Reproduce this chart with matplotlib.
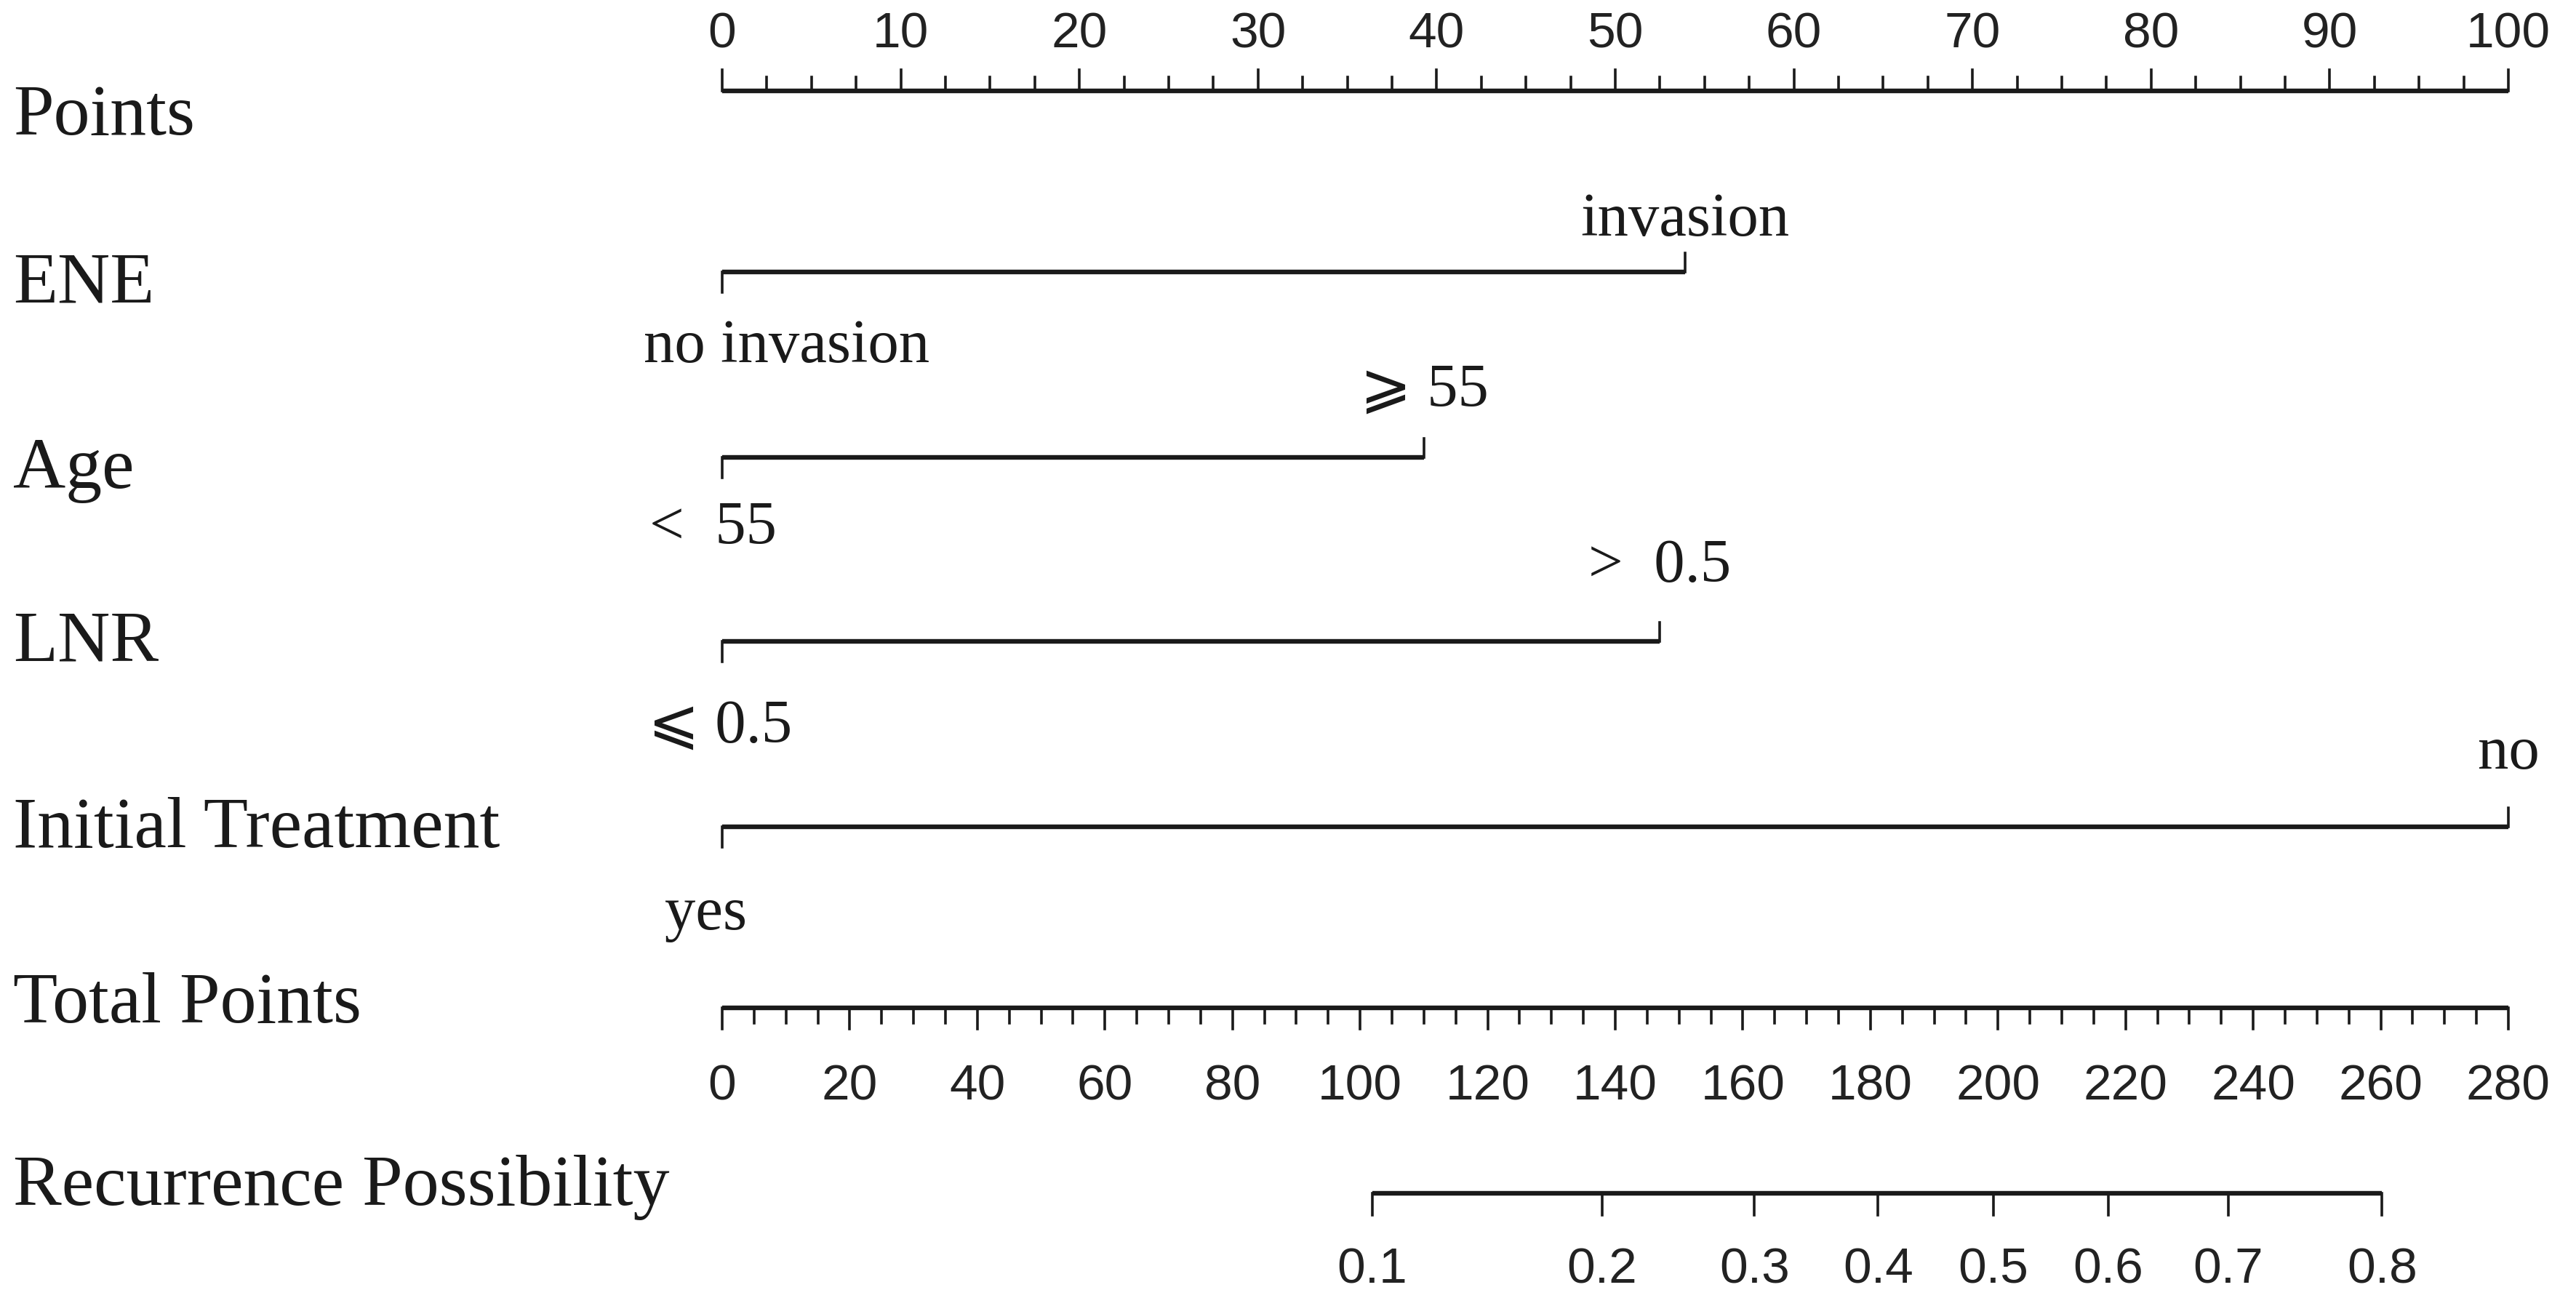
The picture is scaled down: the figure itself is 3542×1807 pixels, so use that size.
import numpy as np
import matplotlib
matplotlib.use("Agg")
import matplotlib.pyplot as plt
import matplotlib.transforms as mtransforms

# nomogram data
point_labels = [0, 10, 20, 30, 40, 50, 60, 70, 80, 90, 100]
predictors = ["ENE", "Age", "LNR", "Initial Treatment"]
low_levels = ["no invasion", "<  55", "\u2a7d 0.5", "yes"]
high_levels = ["invasion", "\u2a7e 55", ">  0.5", "no"]
high_points = [53.9, 39.3, 52.5, 100.0]
total_labels = [0, 20, 40, 60, 80, 100, 120, 140, 160, 180, 200, 220, 240, 260, 280]
total_max = 280
prob_labels = ["0.1", "0.2", "0.3", "0.4", "0.5", "0.6", "0.7", "0.8"]
prob_total_points = [101.9, 137.9, 161.8, 181.2, 199.3, 217.3, 236.1, 260.2]

# layout (pixel rows, image is 3542 x 1808)
W, H = 3542, 1808
x0_px, x100_px = 993, 3449
row_line = {"Points": 126, "ENE": 375, "Age": 630, "LNR": 883,
            "Initial Treatment": 1138, "Total Points": 1387,
            "Recurrence Possibility": 1642}
row_name = {"Points": 185, "ENE": 415, "Age": 671, "LNR": 909,
            "Initial Treatment": 1165, "Total Points": 1406,
            "Recurrence Possibility": 1657}
high_base = [324, 559, 800, 1057]
low_base = [498, 748, 1021, 1278]
low_shift = [3.6, -0.5, -0.1, -0.9]

serif = ["Liberation Serif", "DejaVu Sans"]
numfont = ["Liberation Sans Narrow", "Liberation Sans", "DejaVu Sans"]
name_fs = 72
level_fs = 61
num_fs = 50
lw_axis = 4.6
lw_tick = 2.6
ink = "#1a1a1a"

fig = plt.figure(figsize=(W / 100, H / 100), dpi=100)
ax = fig.add_axes([0, 0, 1, 1])
scale = (x100_px - x0_px) / 100.0
ax.set_xlim(-x0_px / scale, 100 + (W - x100_px) / scale)
ax.set_ylim(H, 0)
ax.axis("off")

blend = mtransforms.blended_transform_factory(ax.transAxes, ax.transData)
for name, yb in row_name.items():
    ax.text(18 / W, yb, name, transform=blend, fontsize=name_fs,
            family=serif, ha="left", va="baseline", color=ink)

# Points axis (ticks up)
y = row_line["Points"]
ax.plot([0, 100], [y, y], color=ink, lw=lw_axis, solid_capstyle="butt")
for v in np.arange(0, 100.01, 2.5):
    major = v % 10 == 0
    ax.plot([v, v], [y, y - (29 if major else 19)], color=ink, lw=lw_tick)
for v in point_labels:
    ax.text(v, 65, str(v), fontsize=num_fs, family=numfont, ha="center",
            va="baseline", color="#222222")

# predictor segments
for i, pred in enumerate(predictors):
    y = row_line[pred]
    hp = high_points[i]
    ax.plot([0, hp], [y, y], color=ink, lw=lw_axis, solid_capstyle="butt")
    ax.plot([0, 0], [y, y + 28], color=ink, lw=lw_tick)
    ax.plot([hp, hp], [y, y - 26], color=ink, lw=lw_tick)
    ax.text(hp, high_base[i], high_levels[i], fontsize=level_fs, family=serif,
            ha="center", va="baseline", color=ink)
    ax.text(low_shift[i], low_base[i], low_levels[i], fontsize=level_fs,
            family=serif, ha="center", va="baseline", color=ink)

# Total Points axis (ticks down)
y = row_line["Total Points"]
k = 100.0 / total_max
ax.plot([0, 100], [y, y], color=ink, lw=lw_axis, solid_capstyle="butt")
for v in np.arange(0, total_max + 0.01, 5):
    major = v % 20 == 0
    ax.plot([v * k, v * k], [y, y + (29 if major else 21)], color=ink, lw=lw_tick)
for v in total_labels:
    ax.text(v * k, 1513, str(v), fontsize=num_fs, family=numfont, ha="center",
            va="baseline", color="#222222")

# Recurrence Possibility axis
y = row_line["Recurrence Possibility"]
px = [t * k for t in prob_total_points]
ax.plot([px[0], px[-1]], [y, y], color=ink, lw=lw_axis, solid_capstyle="butt")
for p, lab in zip(px, prob_labels):
    ax.plot([p, p], [y, y + 30], color=ink, lw=lw_tick)
    ax.text(p, 1765, lab, fontsize=num_fs, family=numfont, ha="center",
            va="baseline", color="#222222")

fig.savefig("out.png", dpi=100, facecolor="white")
